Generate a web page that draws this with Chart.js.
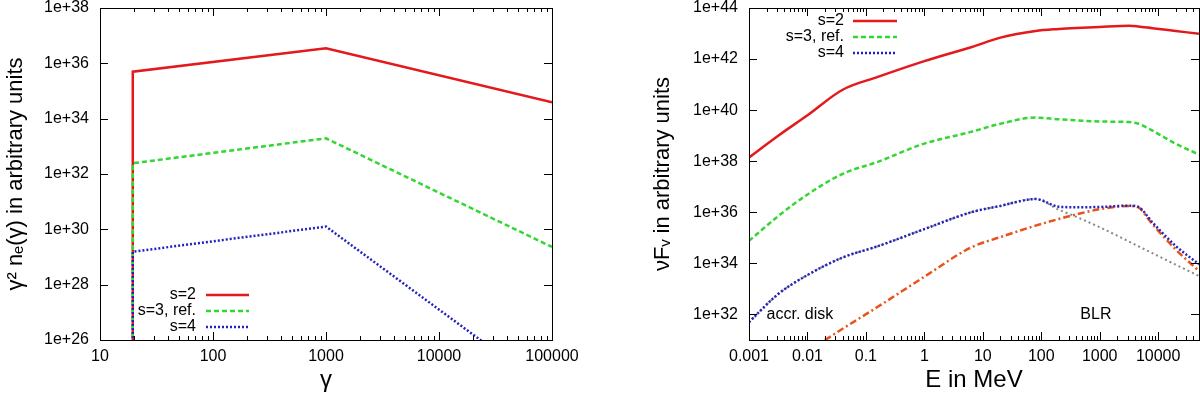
<!DOCTYPE html>
<html>
<head>
<meta charset="utf-8">
<script src="https://cdn.jsdelivr.net/npm/chart.js@4.4.1/dist/chart.umd.min.js"></script>
<style>
  body { margin: 0; background: #fff; }
  #wrap { position: relative; width: 1200px; height: 393px; }
  canvas { position: absolute; top: 0; }
</style>
</head>
<body>
<div id="wrap">
  <canvas id="electrons" width="600" height="393" style="left:0"></canvas>
  <canvas id="spectrum" width="600" height="393" style="left:600px"></canvas>
</div>
<script>
// left panel: gamma^2 n_e(gamma)
const gamma = [19.5, 19.5, 1000, 100000];
const ne_s2 = [1e20, 5.0e35, 3.5e36, 3.9e34];
const ne_s3 = [1e20, 2.45e32, 1.95e33, 2.3e29];
const ne_s4 = [1e20, 1.55e29, 1.26e30, 1.26e24];
const gammaTicks = [10, 100, 1000, 10000, 100000];
const gammaTickLabels = ['10', '100', '1000', '10000', '100000'];
const neTicks = [1e26, 1e28, 1e30, 1e32, 1e34, 1e36, 1e38];
const neTickLabels = ['1e+26', '1e+28', '1e+30', '1e+32', '1e+34', '1e+36', '1e+38'];

// right panel: nuF_nu vs E
const energy = [0.001, 0.00316, 0.01, 0.04, 0.16, 1, 6.3, 20, 80, 200, 400, 1000, 3200, 4500, 8000, 20000, 50000];
const sed_s2 = [1.41e38, 1.0e39, 6.3e39, 6.3e40, 2.0e41, 8.3e41, 2.9e42, 6.9e42, 1.26e43, 1.51e43, 1.66e43, 1.82e43, 2.0e43, 1.9e43, 1.62e43, 1.26e43, 9.8e42];
const sed_s3 = [7.6e34, 7.1e35, 5.0e36, 3.2e37, 9.5e37, 4.9e38, 1.41e39, 2.95e39, 5.1e39, 4.4e39, 4.0e39, 3.6e39, 3.4e39, 3.0e39, 1.58e39, 4.8e38, 1.82e38];
const sed_s4 = [5.0e31, 6.3e32, 3.5e33, 1.7e34, 4.7e34, 2.2e35, 1.0e36, 1.78e36, 3.3e36, 1.66e36, 1.58e36, 1.62e36, 1.82e36, 1.66e36, 4.0e35, 4.8e34, 9.3e33];
const sed_disk = [5.0e31, 6.3e32, 3.5e33, 1.7e34, 4.7e34, 2.2e35, 1.0e36, 1.78e36, 3.3e36, 1.26e36, 6.6e35, 2.6e35, 7.1e34, 4.8e34, 2.5e34, 8.9e33, 3.2e33];
const sed_blr = [1.26e29, 6.8e29, 3.6e30, 2.75e31, 2.0e32, 3.0e33, 4.2e34, 1.07e35, 3.0e35, 5.5e35, 8.3e35, 1.32e36, 1.78e36, 1.58e36, 3.4e35, 3.5e34, 5.0e33];
const eTicks = [0.001, 0.01, 0.1, 1, 10, 100, 1000, 10000];
const eTickLabels = ['0.001', '0.01', '0.1', '1', '10', '100', '1000', '10000'];
const sedTicks = [1e32, 1e34, 1e36, 1e38, 1e40, 1e42, 1e44];
const sedTickLabels = ['1e+32', '1e+34', '1e+36', '1e+38', '1e+40', '1e+42', '1e+44'];

const seriesLabels = ['s=2', 's=3, ref.', 's=4'];
const noteText = ['accr. disk', 'BLR'];
const noteE = [0.002, 860];
const noteF = [1e32, 1e32];

const FONT = '"Liberation Sans", Arial, sans-serif';
const pts = (xs, ys) => xs.map((x, i) => ({x: x, y: ys[i]}));

// gnuplot-like frame with inward ticks
const frame = {
    id: 'frame',
    afterDatasetsDraw(chart) {
        const {ctx, chartArea: a, scales: {x, y}} = chart;
        ctx.save();
        ctx.strokeStyle = '#000';
        ctx.lineWidth = 1;
        ctx.beginPath();
        const lo = Math.floor(Math.log10(x.min)), hi = Math.ceil(Math.log10(x.max));
        for (let d = lo; d <= hi; d++) {
            for (let m = 1; m <= 9; m++) {
                const v = m * Math.pow(10, d);
                if (v < x.min * 0.999 || v > x.max * 1.001) continue;
                const px = Math.round(x.getPixelForValue(v)) + 0.5;
                const len = m === 1 ? 8 : 4;
                ctx.moveTo(px, a.bottom); ctx.lineTo(px, a.bottom - len);
                ctx.moveTo(px, a.top); ctx.lineTo(px, a.top + len);
            }
        }
        y.ticks.forEach(t => {
            const py = Math.round(y.getPixelForValue(t.value)) + 0.5;
            ctx.moveTo(a.left, py); ctx.lineTo(a.left + 8, py);
            ctx.moveTo(a.right, py); ctx.lineTo(a.right - 8, py);
        });
        ctx.stroke();
        ctx.strokeRect(Math.round(a.left) + 0.5, Math.round(a.top) + 0.5,
            Math.round(a.right - a.left), Math.round(a.bottom - a.top));
        ctx.restore();
    }
};

const insideLegend = {
    id: 'insideLegend',
    afterDatasetsDraw(chart, args, o) {
        const ctx = chart.ctx;
        ctx.save();
        ctx.font = '16px ' + FONT;
        ctx.textAlign = 'right';
        ctx.textBaseline = 'middle';
        chart.data.datasets.filter(ds => seriesLabels.includes(ds.label)).forEach((ds, i) => {
            const yy = o.y + i * o.rowGap;
            ctx.fillStyle = '#000';
            ctx.fillText(ds.label, o.x, yy);
            ctx.strokeStyle = ds.borderColor;
            ctx.lineWidth = ds.borderWidth;
            ctx.setLineDash(ds.borderDash || []);
            ctx.beginPath();
            ctx.moveTo(o.x + o.gap, yy);
            ctx.lineTo(o.x + o.gap + o.len, yy);
            ctx.stroke();
        });
        ctx.restore();
    }
};

const notes = {
    id: 'notes',
    afterDatasetsDraw(chart, args, o) {
        if (!o.show) return;
        const {ctx, scales: {x, y}} = chart;
        ctx.save();
        ctx.font = '16px ' + FONT;
        ctx.fillStyle = '#000';
        ctx.textBaseline = 'middle';
        noteText.forEach((t, i) => {
            ctx.textAlign = i === 0 ? 'left' : 'center';
            ctx.fillText(t, x.getPixelForValue(noteE[i]), y.getPixelForValue(noteF[i]));
        });
        ctx.restore();
    }
};

function logAxis(min, max, ticks, labels, vertical, title, size, titlePad) {
    return {
        type: 'logarithmic',
        min: min,
        max: max,
        grid: {display: false, drawTicks: false},
        border: {display: false},
        afterBuildTicks: s => { s.ticks = ticks.map(v => ({value: v})); },
        afterFit: s => {
            // fixed axis size, and no extra padding from end labels
            if (vertical) { s.width = size; s.paddingTop = 0; s.paddingBottom = 0; }
            else { s.height = size; s.paddingLeft = 0; s.paddingRight = 0; }
        },
        ticks: {
            autoSkip: false,
            maxRotation: 0,
            padding: vertical ? 11 : 9,
            color: '#000',
            font: {family: FONT, size: 16, lineHeight: 1},
            callback: (v, i) => labels[i]
        },
        title: {
            display: true,
            text: title,
            color: '#000',
            font: {family: FONT, size: vertical ? 22 : 24, lineHeight: 1},
            padding: vertical ? {top: titlePad, bottom: 0} : {top: 0, bottom: titlePad}
        }
    };
}

function line(label, xs, ys, color, width, dash, order, smooth) {
    return {
        label: label,
        data: pts(xs, ys),
        borderColor: color,
        borderWidth: width,
        borderDash: dash,
        borderCapStyle: 'butt',
        pointRadius: 0,
        fill: false,
        order: order,
        tension: smooth ? 0.4 : 0,
        cubicInterpolationMode: smooth ? 'monotone' : 'default'
    };
}

const commonPlugins = {
    legend: {display: false},
    tooltip: {enabled: false}
};

const electronChart = new Chart(document.getElementById('electrons'), {
    type: 'line',
    data: {
        datasets: [
            line('s=2', gamma, ne_s2, '#e3191c', 2.5, [], 3, false),
            line('s=3, ref.', gamma, ne_s3, '#33d633', 2.5, [5, 3], 2, false),
            line('s=4', gamma, ne_s4, '#2222c0', 2.5, [2, 2], 1, false)
        ]
    },
    options: {
        responsive: false,
        animation: false,
        devicePixelRatio: 1,
        layout: {padding: {top: 8, right: 48, left: 0, bottom: 0}},
        scales: {
            x: logAxis(10, 100000, gammaTicks, gammaTickLabels, false, 'γ', 53, 1),
            y: logAxis(1e26, 1e38, neTicks, neTickLabels, true, 'γ² nₑ(γ) in arbitrary units', 100, 5)
        },
        plugins: Object.assign({}, commonPlugins, {
            insideLegend: {x: 196, y: 295, gap: 10, len: 43, rowGap: 16},
            notes: {show: false}
        })
    },
    plugins: [frame, insideLegend, notes]
});

const spectrumChart = new Chart(document.getElementById('spectrum'), {
    type: 'line',
    data: {
        datasets: [
            line('s=2', energy, sed_s2, '#e3191c', 2.5, [], 5, true),
            line('s=3, ref.', energy, sed_s3, '#33d633', 2.5, [5, 3], 4, true),
            line('s=4', energy, sed_s4, '#2222c0', 2.5, [2, 2], 1, true),
            line('accr. disk', energy, sed_disk, '#888888', 2, [2, 3], 3, true),
            line('BLR', energy, sed_blr, '#e8531c', 2.5, [7, 3, 2, 3], 2, true)
        ]
    },
    options: {
        responsive: false,
        animation: false,
        devicePixelRatio: 1,
        layout: {padding: {top: 8, right: 1, left: 0, bottom: 0}},
        scales: {
            x: logAxis(0.001, 50000, eTicks, eTickLabels, false, 'E in MeV', 53, 1),
            y: logAxis(1e31, 1e44, sedTicks, sedTickLabels, true, 'νFᵥ in arbitrary units', 149, 52)
        },
        plugins: Object.assign({}, commonPlugins, {
            insideLegend: {x: 244, y: 21, gap: 9, len: 44, rowGap: 16},
            notes: {show: true}
        })
    },
    plugins: [frame, insideLegend, notes]
});
</script>
</body>
</html>
